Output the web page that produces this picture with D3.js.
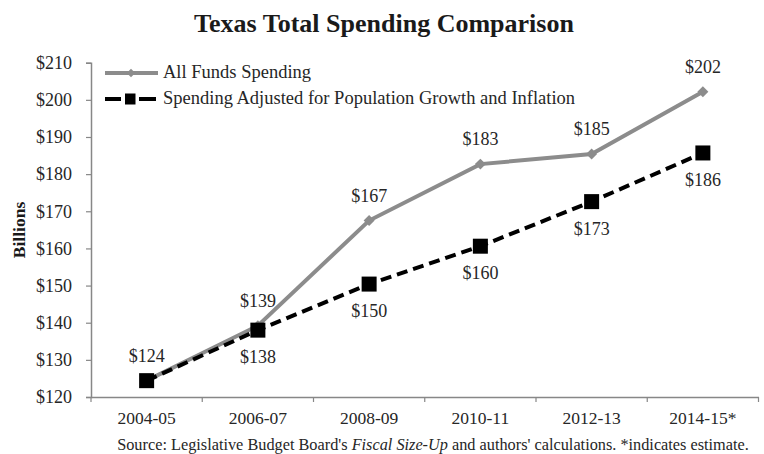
<!DOCTYPE html>
<html>
<head>
<meta charset="utf-8">
<script src="https://cdn.jsdelivr.net/npm/d3@7"></script>
<style>
  html, body { margin: 0; padding: 0; background: #fff; }
  svg { display: block; font-family: "Liberation Serif", "Times New Roman", serif; }
</style>
</head>
<body>
<svg id="chart" width="764" height="454"></svg>
<script>
const categories = ["2004-05", "2006-07", "2008-09", "2010-11", "2012-13", "2014-15*"];
const allFunds = [124.4, 139.2, 167.5, 182.7, 185.4, 202.2];
const adjusted = [124.4, 138.0, 150.4, 160.6, 172.6, 185.7];
const allFundsLabels = ["$124", "$139", "$167", "$183", "$185", "$202"];
const adjustedLabels = ["", "$138", "$150", "$160", "$173", "$186"];
const yTicks = [120, 130, 140, 150, 160, 170, 180, 190, 200, 210];
const seriesNames = ["All Funds Spending", "Spending Adjusted for Population Growth and Inflation"];

const svg = d3.select("#chart");
const plotLeft = 91, plotRight = 758.5, plotTop = 62.7, plotBottom = 397;
const axisColor = "#878787";
const textColor = "#262626";
const grayLine = "#8c8c8c";

const x = d3.scaleBand().domain(categories).range([plotLeft, plotRight]).padding(0);
const y = d3.scaleLinear().domain([120, 210]).range([plotBottom, plotTop]);
const cx = d => x(d) + x.bandwidth() / 2;

// Title
svg.append("text").attr("x", 384).attr("y", 31.5).attr("text-anchor", "middle")
  .attr("font-size", 26).attr("font-weight", "bold").attr("fill", "#1a1a1a")
  .text("Texas Total Spending Comparison");

// Y axis
const yAxis = svg.append("g").attr("transform", `translate(${plotLeft},0)`)
  .call(d3.axisLeft(y).tickValues(yTicks).tickSize(5).tickPadding(14).tickFormat(d => "$" + d));
yAxis.select(".domain").attr("stroke", axisColor).attr("stroke-width", 1.5);
yAxis.selectAll(".tick line").attr("stroke", axisColor).attr("stroke-width", 1.2);
yAxis.selectAll(".tick text").attr("font-size", 18).attr("fill", textColor)
  .attr("font-family", "Liberation Serif, serif");

// X axis
const xAxis = svg.append("g").attr("transform", `translate(0,${plotBottom})`)
  .call(d3.axisBottom(x).tickSize(0).tickPadding(14.5));
xAxis.select(".domain").attr("stroke", axisColor).attr("stroke-width", 1.5);
xAxis.selectAll(".tick text").attr("font-size", 17.5).attr("fill", textColor)
  .attr("font-family", "Liberation Serif, serif");
const edges = categories.map(c => x(c)).concat([x(categories[categories.length - 1]) + x.bandwidth()]);
xAxis.selectAll(".edge").data(edges).enter().append("line").attr("class", "edge")
  .attr("x1", d => d).attr("x2", d => d).attr("y1", 0).attr("y2", 5)
  .attr("stroke", axisColor).attr("stroke-width", 1.2);

// Y axis title
svg.append("text").attr("transform", "translate(25,230) rotate(-90)")
  .attr("text-anchor", "middle").attr("font-size", 17.5).attr("font-weight", "bold")
  .attr("fill", "#1a1a1a").text("Billions");

// Lines
const line = d3.line().x((d, i) => cx(categories[i])).y(d => y(d));
svg.append("path").datum(allFunds).attr("d", line).attr("fill", "none")
  .attr("stroke", grayLine).attr("stroke-width", 4);
svg.append("path").datum(adjusted).attr("d", line).attr("fill", "none")
  .attr("stroke", "#000").attr("stroke-width", 4).attr("stroke-dasharray", "11,6");

// Markers
const diamond = d3.symbol().type(d3.symbolSquare).size(60);
svg.selectAll(".dia").data(allFunds).enter().append("path")
  .attr("d", diamond())
  .attr("transform", (d, i) => `translate(${cx(categories[i])},${y(d)}) rotate(45)`)
  .attr("fill", grayLine);
svg.selectAll(".sq").data(adjusted).enter().append("rect")
  .attr("x", (d, i) => cx(categories[i]) - 7.5).attr("y", d => y(d) - 7.5)
  .attr("width", 15).attr("height", 15).attr("fill", "#000");

// Data labels
svg.selectAll(".lab1").data(allFunds).enter().append("text")
  .attr("x", (d, i) => cx(categories[i]))
  .attr("y", d => y(d) - 19)
  .attr("text-anchor", "middle").attr("font-size", 18).attr("fill", textColor)
  .text((d, i) => allFundsLabels[i]);
svg.selectAll(".lab2").data(adjusted).enter().append("text")
  .attr("x", (d, i) => cx(categories[i]))
  .attr("y", d => y(d) + 33)
  .attr("text-anchor", "middle").attr("font-size", 18).attr("fill", textColor)
  .text((d, i) => adjustedLabels[i]);

// Legend
const lg = svg.append("g");
lg.append("line").attr("x1", 105).attr("x2", 158).attr("y1", 73).attr("y2", 73)
  .attr("stroke", grayLine).attr("stroke-width", 4);
lg.append("path").attr("d", d3.symbol().type(d3.symbolSquare).size(36)())
  .attr("transform", "translate(131,73) rotate(45)").attr("fill", grayLine);
lg.append("text").attr("x", 163).attr("y", 77.5).attr("font-size", 18.5).attr("fill", textColor)
  .text(seriesNames[0]);
lg.append("line").attr("x1", 105).attr("x2", 121).attr("y1", 99).attr("y2", 99)
  .attr("stroke", "#000").attr("stroke-width", 4);
lg.append("line").attr("x1", 139).attr("x2", 156).attr("y1", 99).attr("y2", 99)
  .attr("stroke", "#000").attr("stroke-width", 4);
lg.append("rect").attr("x", 125).attr("y", 93.5).attr("width", 10.5).attr("height", 11).attr("fill", "#000");
lg.append("text").attr("x", 163).attr("y", 103.5).attr("font-size", 18.5).attr("fill", textColor)
  .text(seriesNames[1]);

// Source
const src = svg.append("text").attr("x", 433).attr("y", 450).attr("text-anchor", "middle")
  .attr("font-size", 16.3).attr("fill", textColor);
src.append("tspan").text("Source: Legislative Budget Board's ");
src.append("tspan").attr("font-style", "italic").text("Fiscal Size-Up");
src.append("tspan").text(" and authors' calculations. *indicates estimate.");
</script>
</body>
</html>
